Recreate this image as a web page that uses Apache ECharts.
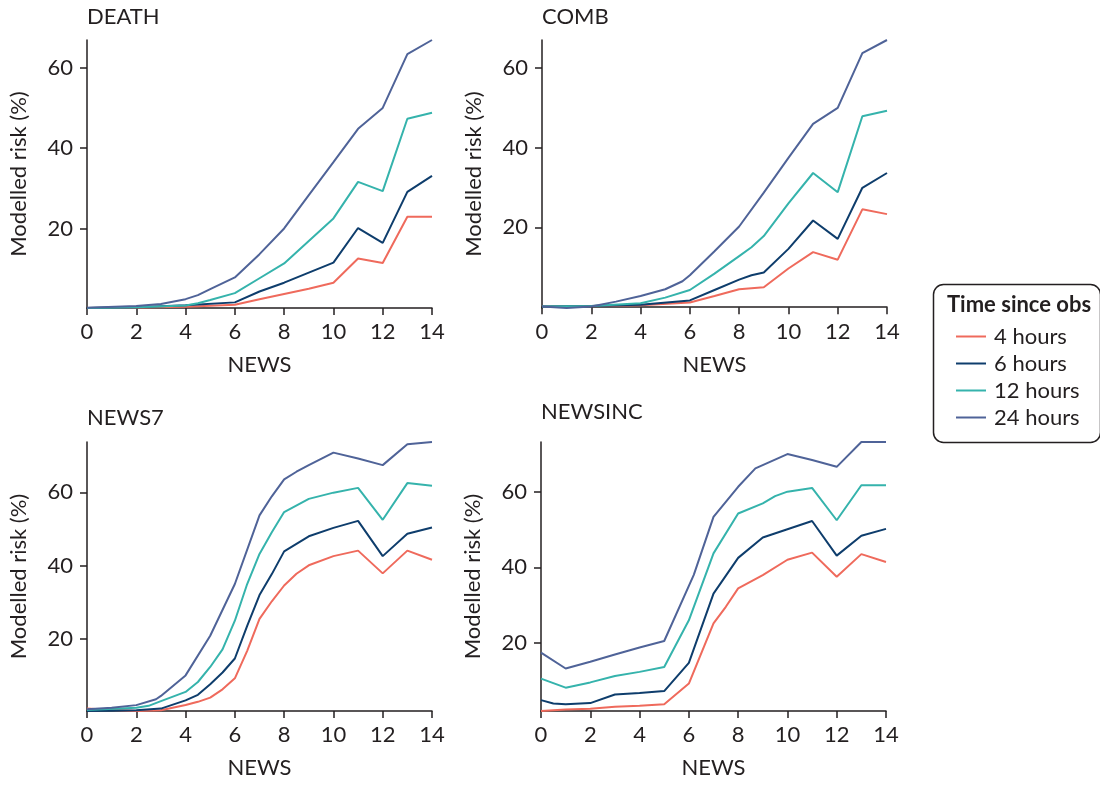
<!DOCTYPE html>
<html>
<head>
<meta charset="utf-8">
<script src="https://cdn.jsdelivr.net/npm/echarts@6/dist/echarts.min.js"></script>
<style>
  html, body { margin: 0; padding: 0; background: #fff; }
  #main { width: 1100px; height: 785px; }
</style>
</head>
<body>
<div id="main"></div>
<script>
// series names and panel titles
const seriesNames = ['4 hours', '6 hours', '12 hours', '24 hours'];
const panelTitles = ['DEATH', 'COMB', 'NEWS7', 'NEWSINC'];
const xTicks = [0, 2, 4, 6, 8, 10, 12, 14];
const yTicks = [20, 40, 60];

// DEATH: [NEWS, modelled risk %]
const death4 = [[0,0.2],[2,0.3],[4,0.5],[6,1.0],[7,2.4],[8,3.7],[9,5.0],[10,6.5],[11,12.5],[12,11.4],[13,22.9],[14,22.9]];
const death6 = [[0,0.2],[2,0.4],[4,0.9],[6,1.6],[7,4.3],[8,6.5],[9,9.0],[10,11.5],[11,20.1],[12,16.4],[13,29.1],[14,33.1]];
const death12 = [[0,0.2],[2,0.4],[4,0.8],[4.5,1.4],[5,2.2],[6,3.9],[7,7.6],[8,11.3],[9,16.9],[10,22.5],[11,31.6],[12,29.3],[13,47.3],[14,48.8]];
const death24 = [[0,0.25],[2,0.7],[3,1.2],[4,2.4],[4.5,3.4],[5,4.9],[6,7.8],[7,13.6],[8,20.0],[9,28.3],[10,36.5],[11,44.8],[12,50.0],[13,63.4],[14,66.9]];

// COMB
const comb4 = [[0,0.2],[2,0.3],[4,0.5],[6,1.2],[7,2.8],[8,4.5],[9,5.0],[10,9.7],[11,13.8],[12,11.9],[13,24.5],[14,23.3]];
const comb6 = [[0,0.2],[2,0.3],[4,0.6],[6,1.7],[7,4.3],[8,6.9],[8.5,8.0],[9,8.7],[10,14.6],[11,21.7],[12,17.1],[13,29.9],[14,33.6]];
const comb12 = [[0,0.2],[2,0.3],[4,1.0],[5,2.4],[6,4.3],[7,8.4],[8,12.8],[8.5,15.0],[9,17.8],[10,26.0],[11,33.6],[12,28.8],[13,47.8],[14,49.2]];
const comb24 = [[0,0.15],[1,-0.2],[2,0.15],[3,1.4],[4,2.8],[5,4.5],[5.7,6.5],[6,8.0],[7,14.0],[8,20.2],[9,28.7],[10,37.4],[11,45.9],[12,49.9],[13,63.6],[14,66.9]];

// NEWS7
const news74 = [[0,1.05],[1,0.7],[2,0.4],[3,0.6],[4,2.05],[4.5,2.9],[5,4.05],[5.5,6.3],[6,9.3],[6.5,16.8],[7,25.5],[7.5,30.3],[8,34.6],[8.5,37.8],[9,40.1],[10,42.6],[11,44.1],[12,37.9],[13,44.1],[14,41.6]];
const news76 = [[0,0.4],[2,0.6],[3,1.05],[4,3.3],[4.5,4.8],[5,7.7],[5.5,10.9],[6,14.7],[6.5,23.6],[7,32.0],[7.5,37.7],[8,43.9],[9,48.0],[10,50.3],[11,52.2],[12,42.6],[13,48.7],[14,50.4]];
const news712 = [[0,0.7],[2,1.3],[2.5,1.8],[3,3.1],[4,5.6],[4.5,8.3],[5,12.4],[5.5,17.2],[6,25.0],[6.5,35.0],[7,43.2],[7.5,49.1],[8,54.6],[9,58.2],[10,59.9],[11,61.2],[12,52.5],[13,62.5],[14,61.8]];
const news724 = [[0,0.9],[1,1.3],[2,2.0],[2.8,3.6],[3,4.5],[4,10.1],[5,20.9],[6,35.0],[7,53.7],[7.5,58.9],[8,63.5],[8.5,65.6],[9,67.4],[10,70.8],[11,69.2],[12,67.4],[13,73.1],[14,73.7]];

// NEWSINC
const newsinc4 = [[0,1.8],[1,2.2],[2,2.4],[3,2.9],[4,3.2],[5,3.6],[6,9.1],[7,25.1],[7.5,29.5],[8,34.4],[9,37.9],[10,42.0],[11,43.9],[12,37.5],[13,43.5],[14,41.4]];
const newsinc6 = [[0,4.7],[0.5,3.8],[1,3.6],[2,3.9],[3,6.2],[4,6.6],[5,7.1],[6,14.6],[7,33.0],[8,42.5],[9,47.9],[10,50.1],[11,52.3],[12,43.1],[13,48.4],[14,50.2]];
const newsinc12 = [[0,10.4],[1,8.0],[2,9.4],[3,11.1],[4,12.2],[5,13.5],[6,25.9],[7,43.7],[8,54.3],[9,57.0],[9.5,58.9],[10,60.1],[11,61.1],[12,52.5],[13,61.8],[14,61.8]];
const newsinc24 = [[0,17.3],[1,13.1],[2,14.9],[3,16.8],[4,18.7],[5,20.4],[6.2,38.0],[7,53.4],[8,61.4],[8.7,66.3],[10,70.1],[11,68.5],[12,66.7],[13,73.3],[14,73.3]];

const panelData = [
  [death4, death6, death12, death24],
  [comb4, comb6, comb12, comb24],
  [news74, news76, news712, news724],
  [newsinc4, newsinc6, newsinc12, newsinc24]
];

const colors = ['#ef6a5c', '#0e3d6c', '#35b3ac', '#4f6398'];
const ink = '#231f20';
const font = 'Lato';

const grids = [
  { left: 87, top: 40, width: 345, height: 268 },
  { left: 542, top: 40, width: 345, height: 268 },
  { left: 87, top: 442, width: 345, height: 269 },
  { left: 541, top: 442, width: 345, height: 269 }
];

const titleTops = [6, 6, 407, 401];

const chart = echarts.init(document.getElementById('main'));

const xAxes = grids.map((g, i) => ({
  type: 'value', gridIndex: i, min: 0, max: 14, interval: 2,
  name: 'NEWS', nameLocation: 'middle', nameGap: 46,
  nameTextStyle: { color: ink, fontSize: 22, fontFamily: font },
  axisLine: { lineStyle: { color: ink, width: 1.5 } },
  axisTick: { show: true, length: 7, lineStyle: { color: ink, width: 1.5 } },
  axisLabel: { color: ink, fontSize: 22, fontFamily: font, margin: 13 },
  splitLine: { show: false }
}));

const yAxes = grids.map((g, i) => ({
  type: 'value', gridIndex: i, min: 'dataMin', max: 'dataMax',
  name: 'Modelled risk (%)', nameLocation: 'middle', nameGap: 57,
  nameTextStyle: { color: ink, fontSize: 22, fontFamily: font },
  axisLine: { show: true, lineStyle: { color: ink, width: 1.5 } },
  axisTick: { show: true, length: 7, customValues: yTicks, lineStyle: { color: ink, width: 1.5 } },
  axisLabel: { color: ink, fontSize: 22, fontFamily: font, margin: 14, customValues: yTicks },
  splitLine: { show: false }
}));

const series = [];
panelData.forEach((group, p) => {
  group.forEach((d, k) => {
    series.push({
      name: seriesNames[k], type: 'line', xAxisIndex: p, yAxisIndex: p,
      data: d, showSymbol: false, symbol: 'none',
      color: colors[k],
      lineStyle: { color: colors[k], width: 2 },
      emphasis: { disabled: true }
    });
  });
});

chart.setOption({
  animation: false,
  title: panelTitles.map((t, i) => ({
    text: t, left: grids[i].left, top: titleTops[i], padding: 0,
    textStyle: { color: ink, fontSize: 22, fontWeight: 'normal', fontFamily: font }
  })),
  grid: grids,
  xAxis: xAxes,
  yAxis: yAxes,
  legend: {
    data: seriesNames, orient: 'vertical', left: 951, top: 318,
    icon: 'rect', itemWidth: 30, itemHeight: 2, itemGap: 0,
    textStyle: { color: ink, fontSize: 22, fontFamily: font, lineHeight: 27, padding: [0, 0, 0, 3] },
    selectedMode: false
  },
  graphic: [
    { type: 'rect', left: 931, top: 282, shape: { width: 167, height: 158, r: 10 },
      style: { fill: 'none', stroke: ink, lineWidth: 1.5 } },
    { type: 'text', left: 947, top: 294,
      style: { text: 'Time since obs', fill: ink, font: 'bold 22px Lato' } }
  ],
  series: series
});
</script>
</body>
</html>
